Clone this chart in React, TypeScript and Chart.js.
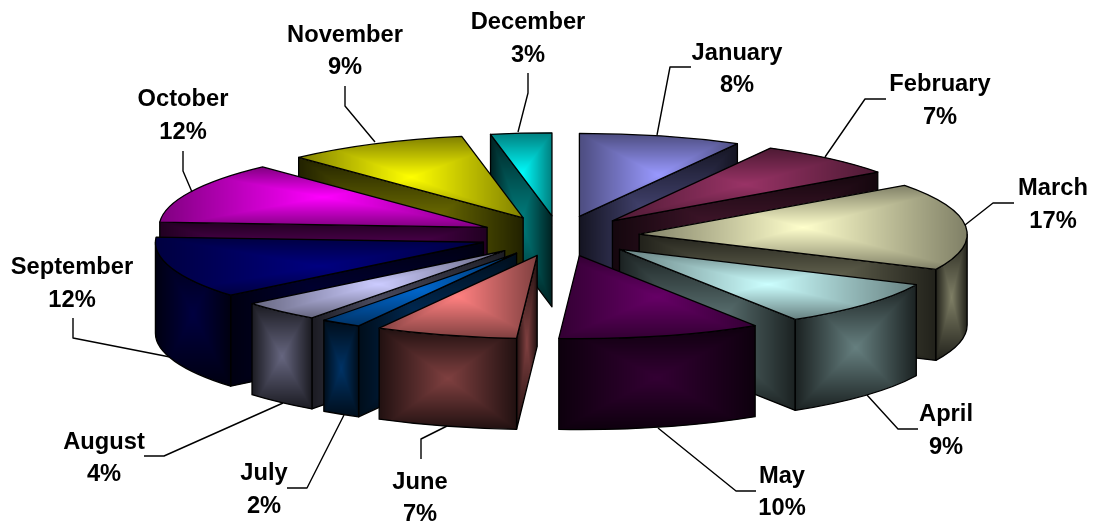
import React, { useEffect, useRef } from "react";
import { Chart, registerables } from "chart.js";

Chart.register(...registerables);

const months = ["January","February","March","April","May","June","July","August","September","October","November","December"];
const shares = [8, 7, 17, 9, 10, 7, 2, 4, 12, 12, 9, 3];
const colours = ["#9999FF","#993366","#FFFFCC","#CCFFFF","#660066","#FF8080","#0066CC","#CCCCFF","#000080","#FF00FF","#FFFF00","#00FFFF"];

// label layout: centre x, first line y, second line y
const labelPos = [
  [737,52,84],[940,83,116],[1053,187,220],[946,413,446],[782,475,507],[420,481,513],
  [264,472,505],[104,441,473],[72,266,299],[183,98,131],[345,34,66],[528,21,54],
];
// leader polylines
const leaders = [
  [[691,67],[670,67],[657,135]],
  [[886,99],[865,99],[825,157]],
  [[1014,203],[993,203],[965,225]],
  [[918,429],[898,429],[867,395]],
  [[756,491],[736,491],[658,428]],
  [[421,459],[421,439],[447,426]],
  [[287,488],[307,488],[344,415]],
  [[144,456],[164,456],[283,403]],
  [[73,318],[73,338],[170,357]],
  [[183,151],[183,171],[192,192]],
  [[345,86],[345,106],[375,142]],
  [[528,73],[528,93],[518,132]],
];

const CX = 559.5, CY = 236, RX = 328, RY = 83, DEPTH = 91, EXPLODE = 80;
const TEXT_FONT = 'bold 23px "Liberation Sans", Arial, sans-serif';
const TEXT_STRETCH = 1.03;
const TEXT_NUDGE = 1.5;

function rgb(hex: string) {
  const n = parseInt(hex.slice(1), 16);
  return [(n >> 16) & 255, (n >> 8) & 255, n & 255];
}

type Box = { x0: number; y0: number; x1: number; y1: number };

function boxOf(pts: number[][]): Box {
  const xs = pts.map((p) => p[0]);
  const ys = pts.map((p) => p[1]);
  return { x0: Math.min(...xs), y0: Math.min(...ys), x1: Math.max(...xs), y1: Math.max(...ys) };
}

function arcPts(cx: number, cy: number, a0: number, a1: number) {
  const out: number[][] = [];
  const n = 48;
  for (let i = 0; i <= n; i++) {
    const a = a0 + ((a1 - a0) * i) / n;
    out.push([cx + RX * Math.cos(a), cy + RY * Math.sin(a)]);
  }
  return out;
}

// "from centre" rectangular shading over the bounding box of a face
function paintPyramid(ctx: CanvasRenderingContext2D, trace: () => void, b: Box, hex: string, fc: number, fe: number) {
  const x0 = Math.floor(b.x0) - 1, y0 = Math.floor(b.y0) - 1;
  const w = Math.ceil(b.x1) + 1 - x0, h = Math.ceil(b.y1) + 1 - y0;
  const mx = (b.x0 + b.x1) / 2, my = (b.y0 + b.y1) / 2;
  const hw = Math.max((b.x1 - b.x0) / 2, 1), hh = Math.max((b.y1 - b.y0) / 2, 1);
  const base = rgb(hex);
  const off = document.createElement("canvas");
  off.width = w;
  off.height = h;
  const octx = off.getContext("2d") as CanvasRenderingContext2D;
  const img = octx.createImageData(w, h);
  for (let j = 0; j < h; j++) {
    for (let i = 0; i < w; i++) {
      const px = x0 + i + 0.5, py = y0 + j + 0.5;
      const t = Math.max(0, 1 - Math.max(Math.abs(px - mx) / hw, Math.abs(py - my) / hh));
      const f = fe + (fc - fe) * t;
      const k = (j * w + i) * 4;
      img.data[k] = base[0] * f;
      img.data[k + 1] = base[1] * f;
      img.data[k + 2] = base[2] * f;
      img.data[k + 3] = 255;
    }
  }
  octx.putImageData(img, 0, 0);
  ctx.save();
  ctx.beginPath();
  trace();
  ctx.clip();
  ctx.drawImage(off, x0, y0);
  ctx.restore();
  ctx.strokeStyle = "#000";
  ctx.lineWidth = 1.3;
  ctx.lineJoin = "round";
  ctx.beginPath();
  trace();
  ctx.stroke();
}

const pie3d = {
  id: "pie3d",
  beforeDatasetDraw(chart: any) {
    const ctx: CanvasRenderingContext2D = chart.ctx;
    const arcs: any[] = chart.getDatasetMeta(0).data;
    const order = arcs
      .map((arc, i) => ({ arc, i, mid: (arc.startAngle + arc.endAngle) / 2 }))
      .sort((p, q) => Math.sin(p.mid) - Math.sin(q.mid));
    for (const { arc, i, mid } of order) {
      const hex = colours[i];
      const ax = CX + EXPLODE * Math.cos(mid);
      const ay = CY + (EXPLODE * RY * Math.sin(mid)) / RX;
      const s = arc.startAngle, e = arc.endAngle;
      const edgeFace = (a: number) => {
        const px = ax + RX * Math.cos(a), py = ay + RY * Math.sin(a);
        const trace = () => {
          ctx.moveTo(ax, ay);
          ctx.lineTo(px, py);
          ctx.lineTo(px, py + DEPTH);
          ctx.lineTo(ax, ay + DEPTH);
          ctx.closePath();
        };
        paintPyramid(ctx, trace, boxOf([[ax, ay], [px, py], [px, py + DEPTH], [ax, ay + DEPTH]]), hex, 0.5, 0.13);
      };
      if (Math.cos(s) < -1e-6) edgeFace(s);
      if (Math.cos(e) > 1e-6) edgeFace(e);
      const r0 = Math.max(s, 0), r1 = Math.min(e, Math.PI);
      if (r1 > r0) {
        const trace = () => {
          ctx.ellipse(ax, ay, RX, RY, 0, r0, r1);
          ctx.ellipse(ax, ay + DEPTH, RX, RY, 0, r1, r0, true);
          ctx.closePath();
        };
        const pts = [...arcPts(ax, ay, r0, r1), ...arcPts(ax, ay + DEPTH, r0, r1)];
        paintPyramid(ctx, trace, boxOf(pts), hex, 0.5, 0.13);
      }
      // flat top drawn by the library's own arc, squashed onto the ellipse
      ctx.save();
      ctx.translate(ax, ay);
      ctx.scale(RX / arc.outerRadius, RY / arc.outerRadius);
      ctx.translate(-arc.x, -arc.y);
      arc.draw(ctx);
      ctx.restore();
      const traceTop = () => {
        ctx.moveTo(ax, ay);
        ctx.ellipse(ax, ay, RX, RY, 0, s, e);
        ctx.closePath();
      };
      paintPyramid(ctx, traceTop, boxOf([[ax, ay], ...arcPts(ax, ay, s, e)]), hex, 1, 0.5);
    }
    return false;
  },
  afterDraw(chart: any) {
    const ctx: CanvasRenderingContext2D = chart.ctx;
    ctx.save();
    ctx.strokeStyle = "#000";
    ctx.lineWidth = 1.4;
    for (const line of leaders) {
      ctx.beginPath();
      line.forEach((p, k) => (k ? ctx.lineTo(p[0], p[1]) : ctx.moveTo(p[0], p[1])));
      ctx.stroke();
    }
    ctx.fillStyle = "#000";
    ctx.font = TEXT_FONT;
    ctx.textAlign = "center";
    ctx.textBaseline = "middle";
    months.forEach((m, i) => {
      const [x, y1, y2] = labelPos[i];
      ctx.save();
      ctx.translate(x, TEXT_NUDGE);
      ctx.scale(TEXT_STRETCH, 1);
      ctx.fillText(m, 0, y1);
      ctx.fillText(`${shares[i]}%`, 0, y2);
      ctx.restore();
    });
    ctx.restore();
  },
};

export default function App() {
  const ref = useRef<HTMLCanvasElement>(null);
  useEffect(() => {
    const chart = new Chart(ref.current as HTMLCanvasElement, {
      type: "pie",
      data: {
        labels: months,
        datasets: [{ data: shares, backgroundColor: colours, borderWidth: 0 }],
      },
      options: {
        animation: false,
        responsive: false,
        plugins: { legend: { display: false }, tooltip: { enabled: false } },
      },
      plugins: [pie3d],
    } as any);
    return () => chart.destroy();
  }, []);
  return (
    <div style={{ position: "absolute", left: 0, top: 0, width: 1094, height: 527, background: "#fff" }}>
      <canvas ref={ref} width={1094} height={527} style={{ display: "block" }} />
    </div>
  );
}
